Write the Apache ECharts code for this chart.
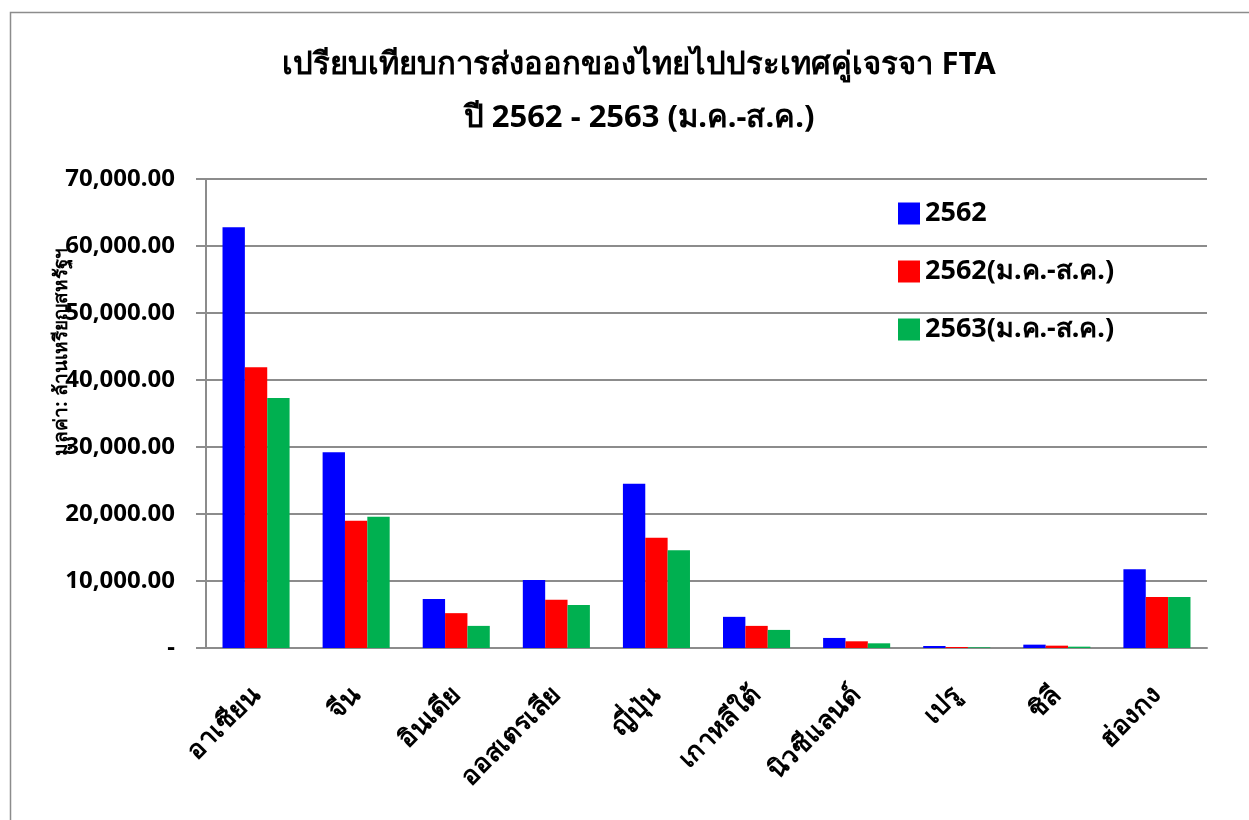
<!DOCTYPE html>
<html><head><meta charset="utf-8">
<script src="https://cdn.jsdelivr.net/npm/echarts@6/dist/echarts.min.js"></script>
<style>html,body{margin:0;padding:0;background:#fff;}#c{width:1249px;height:820px;}</style>
</head><body><div id="c"></div>
<script>
const categories = ['อาเซียน','จีน','อินเดีย','ออสเตรเลีย','ญี่ปุ่น','เกาหลีใต้','นิวซีแลนด์','เปรู','ชิลี','ฮ่องกง'];
const seriesNames = ['2562','2562(ม.ค.-ส.ค.)','2563(ม.ค.-ส.ค.)'];
const v2562 = [62800, 29200, 7300, 10150, 24500, 4650, 1500, 300, 500, 11750];
const v2562JanAug = [41900, 19000, 5200, 7200, 16450, 3300, 1000, 150, 350, 7600];
const v2563JanAug = [37300, 19600, 3300, 6400, 14600, 2700, 700, 100, 200, 7600];
const yTicks = [0, 10000, 20000, 30000, 40000, 50000, 60000, 70000];
const yAxisName = 'มูลค่า: ล้านเหรียญสหรัฐฯ';
const colors = ['#0000ff', '#ff0000', '#00b050'];
const font = 'Tahoma, "Noto Sans", "DejaVu Sans", sans-serif';

const chart = echarts.init(document.getElementById('c'));
const fmt = v => v === 0 ? '-' : v.toLocaleString('en-US', {minimumFractionDigits: 2, maximumFractionDigits: 2});
chart.setOption({
  animation: false,
  color: colors,
  textStyle: {fontFamily: font},
  graphic: [
    {type: 'rect', shape: {x: 10.5, y: 12.5, width: 1400, height: 900}, style: {fill: 'none', stroke: '#8c8c8c', lineWidth: 1.5}},
    {type: 'text', x: 62, y: 352, rotation: Math.PI / 2, style: {text: yAxisName, fontSize: 19, fontWeight: 'bold', fill: '#000', fontFamily: font, align: 'center', verticalAlign: 'middle'}}
  ],
  title: {
    text: 'เปรียบเทียบการส่งออกของไทยไปประเทศคู่เจรจา FTA\nปี 2562 - 2563 (ม.ค.-ส.ค.)',
    left: 634, top: 34, textAlign: 'center',
    textStyle: {fontSize: 31, fontWeight: 'bold', color: '#000', lineHeight: 53, fontFamily: font}
  },
  legend: {
    orient: 'vertical', left: 893, top: 195, itemGap: 31, itemWidth: 22, itemHeight: 22,
    icon: 'rect',
    textStyle: {fontSize: 27, fontWeight: 'bold', color: '#000', fontFamily: font, lineHeight: 22},
    data: seriesNames
  },
  grid: {left: 206, right: 42, top: 179, bottom: 172},
  xAxis: {
    type: 'category', data: categories,
    axisLine: {lineStyle: {color: '#8c8c8c', width: 2}},
    axisTick: {show: false},
    axisLabel: {rotate: 45, interval: 0, fontSize: 26, fontWeight: 'bold', color: '#000', margin: 43, fontFamily: font}
  },
  yAxis: {
    type: 'value', min: 0, max: 70000, interval: 10000,
    axisLine: {show: true, lineStyle: {color: '#8c8c8c', width: 2}},
    axisTick: {show: true, inside: false, length: 10, lineStyle: {color: '#8c8c8c', width: 2}},
    splitLine: {lineStyle: {color: '#8c8c8c', width: 2}},
    axisLabel: {fontSize: 24, fontWeight: 'bold', color: '#000', margin: 31, formatter: v => fmt(v), fontFamily: font}
  },
  series: [
    {name: seriesNames[0], type: 'bar', data: v2562, barGap: '0%', barCategoryGap: '33%'},
    {name: seriesNames[1], type: 'bar', data: v2562JanAug, barGap: '0%', barCategoryGap: '33%'},
    {name: seriesNames[2], type: 'bar', data: v2563JanAug, barGap: '0%', barCategoryGap: '33%'}
  ]
});
</script></body></html>
